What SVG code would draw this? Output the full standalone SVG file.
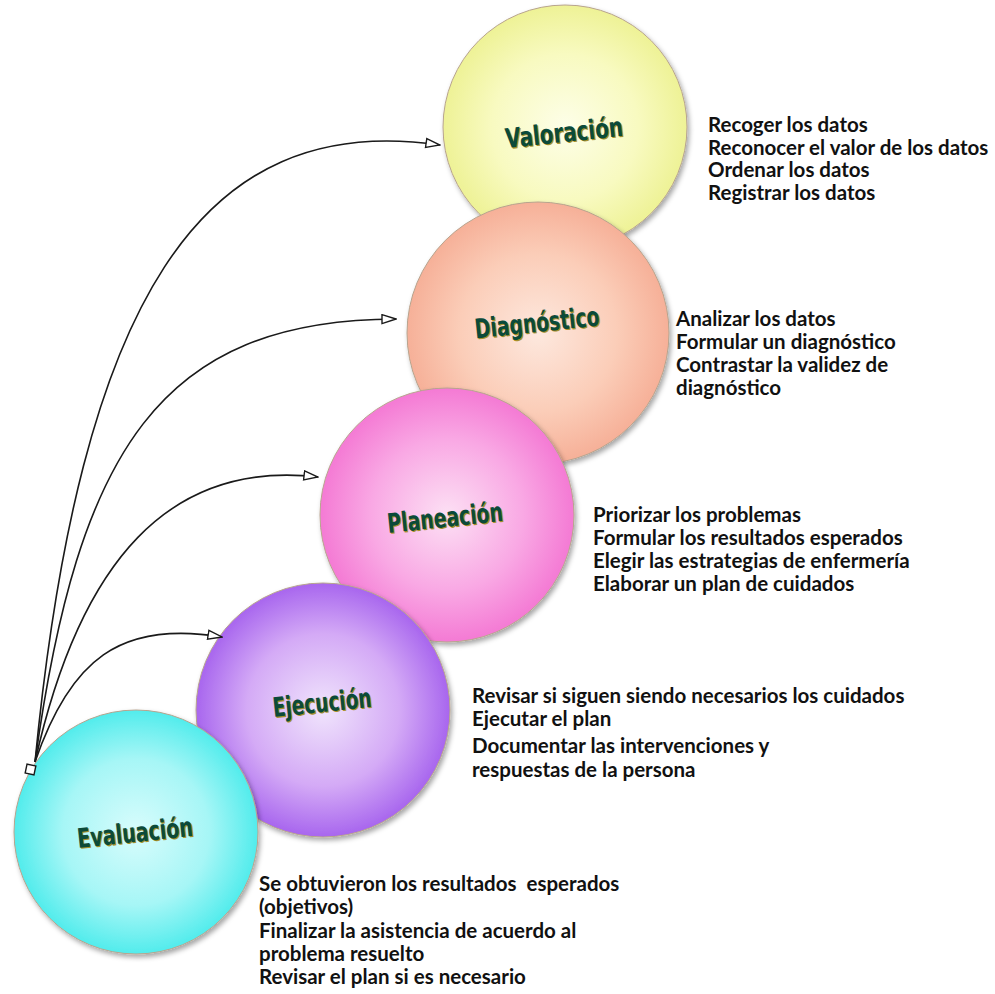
<svg xmlns="http://www.w3.org/2000/svg" width="995" height="994" viewBox="0 0 995 994">
<defs>
<style>
.bub{stroke:#b8a48e;stroke-width:1;filter:url(#sh)}
.lbl{font-family:"DejaVu Sans Condensed","DejaVu Sans",sans-serif;font-weight:bold;font-size:27px;text-anchor:middle;fill:#0b4a3a}
.lsh{font-family:"DejaVu Sans Condensed","DejaVu Sans",sans-serif;font-weight:bold;font-size:27px;text-anchor:middle;fill:#a8902a}
.txt{font-family:Lato,"Liberation Sans",sans-serif;font-weight:bold;font-size:20.5px;fill:#111}
.con{fill:none;stroke:#1a1a1a;stroke-width:1.6}
</style>
<filter id="sh" x="-10%" y="-10%" width="125%" height="125%">
<feDropShadow dx="2" dy="3" stdDeviation="2.5" flood-color="#000" flood-opacity="0.35"/>
</filter>
<radialGradient id="gY" cx="0.5" cy="0.5" r="0.5"><stop offset="0" stop-color="#fdfee8"/><stop offset="0.6" stop-color="#f8fac0"/><stop offset="1" stop-color="#eef296"/></radialGradient>
<radialGradient id="gO" cx="0.5" cy="0.5" r="0.5"><stop offset="0" stop-color="#fde8de"/><stop offset="0.6" stop-color="#fbcdb8"/><stop offset="1" stop-color="#f6b098"/></radialGradient>
<radialGradient id="gP" cx="0.5" cy="0.5" r="0.5"><stop offset="0" stop-color="#fce0f4"/><stop offset="0.6" stop-color="#f9a8e4"/><stop offset="1" stop-color="#f47ad4"/></radialGradient>
<radialGradient id="gV" cx="0.5" cy="0.5" r="0.5"><stop offset="0" stop-color="#f0e4fc"/><stop offset="0.6" stop-color="#d4aaf6"/><stop offset="1" stop-color="#a866ee"/></radialGradient>
<radialGradient id="gC" cx="0.5" cy="0.5" r="0.5"><stop offset="0" stop-color="#d8fcfc"/><stop offset="0.6" stop-color="#a6f6f6"/><stop offset="1" stop-color="#52ecec"/></radialGradient>
<marker id="ah" markerUnits="userSpaceOnUse" markerWidth="16" markerHeight="12" refX="15" refY="5.5" orient="auto" viewBox="0 0 16 12">
<path d="M1,1 L15,5.5 L1,10 z" fill="#fff" stroke="#1a1a1a" stroke-width="1.4" stroke-linejoin="miter"/>
</marker>
</defs>
<rect width="995" height="994" fill="#fff"/>

<g id="valoracion">
<circle class="bub" cx="565" cy="127" r="122" fill="url(#gY)"/>
<g transform="rotate(-6 564 133)">
<text class="lsh" x="565.2" y="143.2" textLength="118" lengthAdjust="spacingAndGlyphs">Valoración</text>
<text class="lbl" x="564" y="142" textLength="118" lengthAdjust="spacingAndGlyphs">Valoración</text>
</g>
<text class="txt"><tspan x="708" y="132">Recoger los datos</tspan><tspan x="708" y="155">Reconocer el valor de los datos</tspan><tspan x="708" y="177">Ordenar los datos</tspan><tspan x="708" y="200">Registrar los datos</tspan></text>
</g>

<g id="diagnostico">
<circle class="bub" cx="538" cy="333" r="131" fill="url(#gO)"/>
<g transform="rotate(-6 537 323)">
<text class="lsh" x="538.2" y="333.2" textLength="125" lengthAdjust="spacingAndGlyphs">Diagnóstico</text>
<text class="lbl" x="537" y="332" textLength="125" lengthAdjust="spacingAndGlyphs">Diagnóstico</text>
</g>
<text class="txt"><tspan x="676" y="326">Analizar los datos</tspan><tspan x="676" y="349">Formular un diagnóstico</tspan><tspan x="676" y="372">Contrastar la validez de</tspan><tspan x="676" y="395">diagnóstico</tspan></text>
</g>

<g id="planeacion">
<circle class="bub" cx="447" cy="515" r="127" fill="url(#gP)"/>
<g transform="rotate(-6 445 518)">
<text class="lsh" x="446.2" y="528.2" textLength="116" lengthAdjust="spacingAndGlyphs">Planeación</text>
<text class="lbl" x="445" y="527" textLength="116" lengthAdjust="spacingAndGlyphs">Planeación</text>
</g>
<text class="txt"><tspan x="593" y="522">Priorizar los problemas</tspan><tspan x="593" y="545">Formular los resultados esperados</tspan><tspan x="593" y="568">Elegir las estrategias de enfermería</tspan><tspan x="593" y="591">Elaborar un plan de cuidados</tspan></text>
</g>

<g id="ejecucion">
<circle class="bub" cx="323" cy="710" r="127" fill="url(#gV)"/>
<g transform="rotate(-6 322 703)">
<text class="lsh" x="323.2" y="713.2" textLength="99" lengthAdjust="spacingAndGlyphs">Ejecución</text>
<text class="lbl" x="322" y="712" textLength="99" lengthAdjust="spacingAndGlyphs">Ejecución</text>
</g>
<text class="txt"><tspan x="472" y="703">Revisar si siguen siendo necesarios los cuidados</tspan><tspan x="472" y="726">Ejecutar el plan</tspan><tspan x="472" y="753">Documentar las intervenciones y</tspan><tspan x="472" y="777">respuestas de la persona</tspan></text>
</g>

<g id="evaluacion">
<circle class="bub" cx="136" cy="832" r="122" fill="url(#gC)"/>
<g transform="rotate(-6 135 833)">
<text class="lsh" x="136.2" y="843.2" textLength="116" lengthAdjust="spacingAndGlyphs">Evaluación</text>
<text class="lbl" x="135" y="842" textLength="116" lengthAdjust="spacingAndGlyphs">Evaluación</text>
</g>
<text class="txt"><tspan x="259" y="891">Se obtuvieron los resultados &#160;esperados</tspan><tspan x="259" y="914">(objetivos)</tspan><tspan x="259" y="938">Finalizar la asistencia de acuerdo al</tspan><tspan x="259" y="961">problema resuelto</tspan><tspan x="259" y="984">Revisar el plan si es necesario</tspan></text>
</g>

<g id="connectors">
<path class="con" d="M35,762 C80,300 200,110 440,145" marker-end="url(#ah)"/>
<path class="con" d="M35,762 C78,450 160,320 396,319" marker-end="url(#ah)"/>
<path class="con" d="M35,762 C80,560 170,460 318,477" marker-end="url(#ah)"/>
<path class="con" d="M35,762 C70,660 120,620 222,637" marker-end="url(#ah)"/>
<rect x="26" y="765" width="9" height="9" fill="#fff" stroke="#1a1a1a" stroke-width="1.4" transform="rotate(12 30.5 769.5)"/>
</g>
</svg>
